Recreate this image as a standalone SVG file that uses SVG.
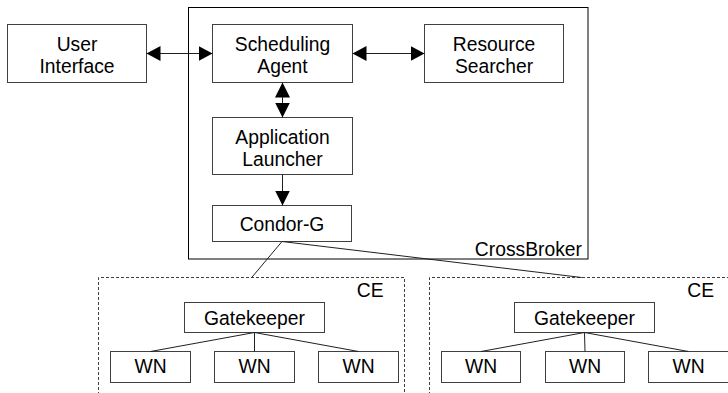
<svg xmlns="http://www.w3.org/2000/svg" width="728" height="393" viewBox="0 0 728 393">
<style>
.box{fill:#fff;stroke:#404040;stroke-width:1}
.frame{fill:none;stroke:#000;stroke-width:1}
.ce{fill:none;stroke:#404040;stroke-width:1;stroke-dasharray:3 2}
.t{font-family:"Liberation Sans",Arial,sans-serif;font-size:19.3px;fill:#000;text-anchor:middle}
.tr{font-family:"Liberation Sans",Arial,sans-serif;font-size:19.3px;fill:#000;text-anchor:end}
.c{stroke:#202020;stroke-width:1;fill:none}
</style>
<defs>
<marker id="ah" markerUnits="userSpaceOnUse" markerWidth="14" markerHeight="15" refX="14" refY="7.5" orient="auto-start-reverse" viewBox="0 0 14 15">
<path d="M0,0 L14,7.5 L0,15 z" fill="#000"/>
</marker>
<marker id="ahv" markerUnits="userSpaceOnUse" markerWidth="15" markerHeight="15" refX="15" refY="7.5" orient="auto-start-reverse" viewBox="0 0 15 15">
<path d="M0,0 L15,7.5 L0,15 z" fill="#000"/>
</marker>
</defs>
<g id="crossbroker">
<rect class="frame" x="188.5" y="7.5" width="399.5" height="251.5"/>
<text class="tr" x="582" y="255.5">CrossBroker</text>
</g>
<g id="ce-left">
<path class="ce" d="M98.5,400 V277.5 H404.5 V400"/>
<text class="tr" x="383.5" y="296.5">CE</text>
</g>
<g id="ce-right">
<path class="ce" d="M429.5,400 V277.5 H740"/>
<text class="tr" x="714" y="296.5">CE</text>
</g>
<g id="user-interface">
<rect class="box" x="7.5" y="24.5" width="139" height="58"/>
<text class="t" x="77" y="50.5">User</text>
<text class="t" x="77" y="72.5">Interface</text>
</g>
<g id="scheduling-agent">
<rect class="box" x="212.5" y="24.5" width="140" height="58"/>
<text class="t" x="282.5" y="50.5">Scheduling</text>
<text class="t" x="282.5" y="72.5">Agent</text>
</g>
<g id="resource-searcher">
<rect class="box" x="424.5" y="24.5" width="139" height="58"/>
<text class="t" x="494" y="50.5">Resource</text>
<text class="t" x="494" y="72.5">Searcher</text>
</g>
<g id="application-launcher">
<rect class="box" x="212.5" y="117.5" width="140" height="57"/>
<text class="t" x="282.5" y="143.5">Application</text>
<text class="t" x="282.5" y="165.5">Launcher</text>
</g>
<g id="condor-g">
<rect class="box" x="212.5" y="205.5" width="139" height="36"/>
<text class="t" x="282" y="230.5">Condor-G</text>
</g>
<g id="gatekeeper-left">
<rect class="box" x="184.5" y="302.5" width="140" height="30"/>
<text class="t" x="254.5" y="325">Gatekeeper</text>
</g>
<g id="wn-l1"><rect class="box" x="110.5" y="351.5" width="80" height="31"/><text class="t" x="150.5" y="373.3">WN</text></g>
<g id="wn-l2"><rect class="box" x="214.5" y="351.5" width="80" height="31"/><text class="t" x="254.5" y="373.3">WN</text></g>
<g id="wn-l3"><rect class="box" x="318.5" y="351.5" width="80" height="31"/><text class="t" x="358.5" y="373.3">WN</text></g>
<g id="gatekeeper-right">
<rect class="box" x="514.5" y="302.5" width="140" height="30"/>
<text class="t" x="584.5" y="325">Gatekeeper</text>
</g>
<g id="wn-r1"><rect class="box" x="441.5" y="351.5" width="79" height="31"/><text class="t" x="481" y="373.3">WN</text></g>
<g id="wn-r2"><rect class="box" x="545.5" y="351.5" width="79" height="31"/><text class="t" x="585" y="373.3">WN</text></g>
<g id="wn-r3"><rect class="box" x="648.5" y="351.5" width="80" height="31"/><text class="t" x="688.5" y="373.3">WN</text></g>
<g id="connectors">
<line class="c" x1="146.5" y1="53.5" x2="212.5" y2="53.5" marker-start="url(#ah)" marker-end="url(#ah)"/>
<line class="c" x1="352.5" y1="53.5" x2="424.5" y2="53.5" marker-start="url(#ah)" marker-end="url(#ah)"/>
<line class="c" x1="282.5" y1="82.5" x2="282.5" y2="117.5" marker-start="url(#ahv)" marker-end="url(#ahv)"/>
<line class="c" x1="282.5" y1="174.5" x2="282.5" y2="205.5" marker-end="url(#ahv)"/>
<line class="c" x1="282" y1="241.5" x2="251.7" y2="277.5"/>
<line class="c" x1="282" y1="241.5" x2="581.7" y2="277.5"/>
<line class="c" x1="254.5" y1="332.5" x2="150.5" y2="351.5"/>
<line class="c" x1="254.5" y1="332.5" x2="254.5" y2="351.5"/>
<line class="c" x1="254.5" y1="332.5" x2="358.5" y2="351.5"/>
<line class="c" x1="584.5" y1="332.5" x2="481" y2="351.5"/>
<line class="c" x1="584.5" y1="332.5" x2="585" y2="351.5"/>
<line class="c" x1="584.5" y1="332.5" x2="688.5" y2="351.5"/>
</g>
</svg>
